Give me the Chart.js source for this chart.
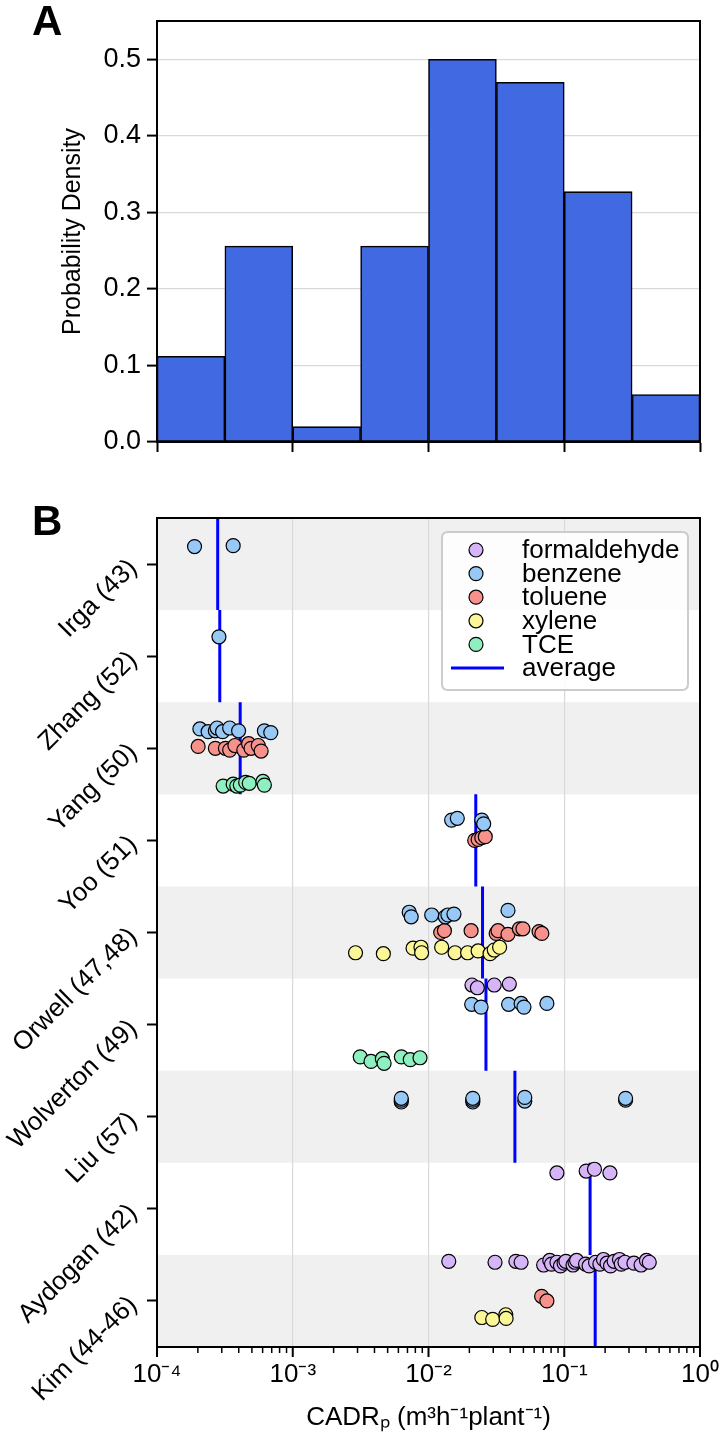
<!DOCTYPE html>
<html><head><meta charset="utf-8">
<script src="https://cdn.jsdelivr.net/npm/chart.js@4.4.1/dist/chart.umd.min.js"></script>
<style>
html,body{margin:0;padding:0;background:#fff;}
body{width:720px;height:1441px;position:relative;overflow:hidden;font-family:"Liberation Sans",Arial,sans-serif;}
.box{position:absolute;left:0;width:720px;}
.panel{position:absolute;font-weight:bold;font-size:42px;line-height:1;color:#000;font-family:"Liberation Sans",Arial,sans-serif;}
</style></head><body>
<div class="box" style="top:0;height:480px"><canvas id="ca"></canvas></div>
<div class="box" style="top:480px;height:961px"><canvas id="cb"></canvas></div>
<div class="panel" style="left:32px;top:0">A</div>
<div class="panel" style="left:32px;top:500px">B</div>
<script>
// ---------- data ----------
const binEdgesLog = [-4, -3.5, -3, -2.5, -2, -1.5, -1, -0.5, 0];
const histDensity = [0.112, 0.256, 0.020, 0.256, 0.500, 0.470, 0.327, 0.062];
const densityTicks = [0, 0.1, 0.2, 0.3, 0.4, 0.5];
const decadeExps = [-4, -3, -2, -1, 0];

const studies = ['Irga (43)', 'Zhang (52)', 'Yang (50)', 'Yoo (51)', 'Orwell (47,48)',
  'Wolverton (49)', 'Liu (57)', 'Aydogan (42)', 'Kim (44-46)'];
const averages = [2.8e-4, 2.9e-4, 4.1e-4, 0.0223, 0.025, 0.0265, 0.0433, 0.155, 0.169];

// points: [CADR value, y position (study index + jitter)]
const formaldehyde = [
  [0.0209, 4.57], [0.0229, 4.60], [0.0305, 4.57], [0.0394, 4.56],
  [0.0883, 6.61], [0.145, 6.59], [0.167, 6.57], [0.217, 6.61],
  [0.0141, 7.57], [0.0309, 7.58], [0.0440, 7.57], [0.0481, 7.58], [0.0705, 7.61], [0.0782, 7.56],
  [0.0806, 7.60], [0.0883, 7.58], [0.0938, 7.62], [0.0997, 7.59], [0.1028, 7.57], [0.116, 7.61],
  [0.120, 7.58], [0.1233, 7.56], [0.1435, 7.60], [0.1524, 7.62], [0.170, 7.58], [0.183, 7.60],
  [0.1944, 7.55], [0.2066, 7.59], [0.2194, 7.62], [0.233, 7.57], [0.255, 7.55], [0.263, 7.60],
  [0.280, 7.58], [0.326, 7.59], [0.368, 7.61], [0.403, 7.56], [0.423, 7.58]
];
const benzene = [
  [1.89e-4, -0.19], [3.64e-4, -0.20],
  [2.86e-4, 0.79],
  [2.07e-4, 1.79], [2.38e-4, 1.82], [2.69e-4, 1.81], [2.77e-4, 1.78], [3.04e-4, 1.82],
  [3.43e-4, 1.78], [3.99e-4, 1.81], [6.18e-4, 1.81], [6.89e-4, 1.83],
  [0.0148, 2.78], [0.0163, 2.76], [0.0247, 2.78], [0.0255, 2.82],
  [0.00721, 3.78], [0.00746, 3.83], [0.01056, 3.81], [0.0133, 3.83], [0.0139, 3.81], [0.0154, 3.80], [0.0385, 3.76],
  [0.0208, 4.78], [0.0244, 4.81], [0.0389, 4.78], [0.0481, 4.77], [0.0505, 4.81], [0.0745, 4.77],
  [0.0063, 5.84], [0.0063, 5.82], [0.0063, 5.80], [0.0212, 5.84], [0.0212, 5.82], [0.0212, 5.80],
  [0.0512, 5.83], [0.0512, 5.79], [0.283, 5.82], [0.283, 5.80]
];
const toluene = [
  [2.01e-4, 1.98], [2.69e-4, 2.00], [3.19e-4, 2.00], [3.43e-4, 2.02], [3.75e-4, 1.97],
  [4.36e-4, 2.02], [4.73e-4, 1.95], [4.93e-4, 2.00], [5.57e-4, 1.97], [5.85e-4, 2.03],
  [0.0219, 3.00], [0.0232, 2.99], [0.0247, 2.97], [0.0262, 2.96],
  [0.0123, 4.00], [0.0131, 3.98], [0.0206, 3.98], [0.0315, 4.01], [0.0325, 3.98],
  [0.0385, 4.02], [0.0467, 3.96], [0.0496, 3.96], [0.0652, 3.99], [0.0684, 4.01],
  [0.0681, 7.95], [0.0745, 8.00]
];
const xylene = [
  [0.0029, 4.22], [0.00465, 4.23], [0.0077, 4.17], [0.0088, 4.16], [0.0089, 4.22], [0.0125, 4.16],
  [0.0157, 4.22], [0.0194, 4.22], [0.0232, 4.20], [0.0284, 4.23], [0.0305, 4.19], [0.0334, 4.16],
  [0.0247, 8.18], [0.0297, 8.20], [0.0371, 8.15], [0.0373, 8.19]
];
const tce = [
  [3.07e-4, 2.41], [3.64e-4, 2.39], [3.87e-4, 2.41], [4.11e-4, 2.40], [4.50e-4, 2.37],
  [4.78e-4, 2.38], [6.03e-4, 2.36], [6.18e-4, 2.40],
  [0.00314, 5.35], [0.00377, 5.40], [0.00457, 5.37], [0.00471, 5.42], [0.00631, 5.35],
  [0.00734, 5.38], [0.00866, 5.36]
];
const seriesNames = ['formaldehyde', 'benzene', 'toluene', 'xylene', 'TCE'];
const seriesColors = ['#d6b4f8', '#98c8f6', '#f6918c', '#fbf797', '#8ef0c0'];
const seriesData = [formaldehyde, benzene, toluene, xylene, tce];

// ---------- helpers ----------
const FAM = '"Liberation Sans", Arial, sans-serif';
Chart.defaults.font.family = FAM;
Chart.defaults.font.size = 26;
Chart.defaults.color = '#000';

const isDecade = v => { const l = Math.log10(v); return Math.abs(l - Math.round(l)) < 1e-6; };
const sup = {'-': '\u207B', '0': '\u2070', '1': '\u00B9', '2': '\u00B2', '3': '\u00B3', '4': '\u2074'};
const decadeLabel = v => isDecade(v) ? '10' + String(Math.round(Math.log10(v))).split('').map(c => sup[c]).join('') : '';

const framePlugin = {
  id: 'frame',
  afterDraw(chart) {
    const {ctx, chartArea: a} = chart;
    ctx.save(); ctx.strokeStyle = '#000'; ctx.lineWidth = 2;
    ctx.strokeRect(a.left, a.top, a.right - a.left, a.bottom - a.top);
    ctx.restore();
  }
};
const bandPlugin = {
  id: 'bands',
  beforeDraw(chart) {
    const {ctx, chartArea: a, scales: {y}} = chart;
    ctx.save(); ctx.fillStyle = '#f0f0f0';
    studies.forEach((s, i) => {
      if (i % 2) return;
      const y1 = y.getPixelForValue(i - 0.5), y2 = y.getPixelForValue(i + 0.5);
      ctx.fillRect(a.left, Math.min(y1, y2), a.right - a.left, Math.abs(y2 - y1));
    });
    ctx.restore();
  }
};
const tickPlugin = {
  id: 'logticks',
  afterDraw(chart) {
    const {ctx, chartArea: a, scales: {x}} = chart;
    ctx.save(); ctx.strokeStyle = '#000';
    x.ticks.forEach(t => {
      const major = isDecade(t.value);
      const px = x.getPixelForValue(t.value);
      ctx.lineWidth = major ? 2 : 1.5;
      ctx.beginPath(); ctx.moveTo(px, a.bottom); ctx.lineTo(px, a.bottom + (major ? 10 : 6)); ctx.stroke();
    });
    ctx.restore();
  }
};
function rr(ctx, x, y, w, h, r) {
  ctx.beginPath();
  ctx.moveTo(x + r, y); ctx.lineTo(x + w - r, y); ctx.quadraticCurveTo(x + w, y, x + w, y + r);
  ctx.lineTo(x + w, y + h - r); ctx.quadraticCurveTo(x + w, y + h, x + w - r, y + h);
  ctx.lineTo(x + r, y + h); ctx.quadraticCurveTo(x, y + h, x, y + h - r);
  ctx.lineTo(x, y + r); ctx.quadraticCurveTo(x, y, x + r, y); ctx.closePath();
}
const legendPlugin = {
  id: 'boxLegend',
  afterDraw(chart) {
    const ctx = chart.ctx;
    const x0 = 442, y0 = 52, w = 246, h = 158;
    ctx.save();
    rr(ctx, x0, y0, w, h, 6);
    ctx.fillStyle = 'rgba(255,255,255,0.85)'; ctx.fill();
    ctx.strokeStyle = '#cccccc'; ctx.lineWidth = 2; ctx.stroke();
    ctx.font = '26px ' + FAM;
    ctx.textBaseline = 'middle'; ctx.textAlign = 'left';
    chart.data.datasets.forEach((ds, i) => {
      const cy = 70 + i * 23.6;
      if (ds.showLine) {
        ctx.strokeStyle = ds.borderColor; ctx.lineWidth = 3;
        ctx.beginPath(); ctx.moveTo(451, cy); ctx.lineTo(504, cy); ctx.stroke();
      } else {
        ctx.beginPath(); ctx.arc(476, cy, 7, 0, Math.PI * 2);
        ctx.fillStyle = ds.backgroundColor; ctx.fill();
        ctx.strokeStyle = '#000'; ctx.lineWidth = 1.2; ctx.stroke();
      }
      ctx.fillStyle = '#000';
      ctx.fillText(ds.label, 522, cy + 1);
    });
    ctx.restore();
  }
};

// ---------- panel A ----------
new Chart(document.getElementById('ca'), {
  type: 'bar',
  data: {
    datasets: [{
      data: histDensity.map((d, i) => ({x: (binEdgesLog[i] + binEdgesLog[i + 1]) / 2, y: d})),
      backgroundColor: '#4169e1', borderColor: '#000', borderWidth: 1.6, borderSkipped: false,
      barPercentage: 1, categoryPercentage: 1
    }]
  },
  options: {
    responsive: true, maintainAspectRatio: false, animation: false,
    layout: {padding: {top: 21, right: 20, left: 0, bottom: 0}},
    plugins: {legend: {display: false}, tooltip: {enabled: false}},
    scales: {
      x: {
        type: 'linear', min: -4, max: 0, offset: false,
        afterBuildTicks: s => { s.ticks = decadeExps.map(v => ({value: v})); },
        ticks: {display: false},
        grid: {offset: false, drawOnChartArea: false, drawTicks: true, tickLength: 10, tickColor: '#000', tickWidth: 2},
        border: {color: '#000', width: 2},
        afterFit: s => { s.height = 38; s.paddingLeft = 0; s.paddingRight = 0; }
      },
      y: {
        min: 0, max: 0.55,
        afterBuildTicks: s => { s.ticks = densityTicks.map(v => ({value: v})); },
        ticks: {callback: v => Number(v).toFixed(1), padding: 6, color: '#000', font: {size: 27}},
        grid: {color: '#d9d9d9', lineWidth: 1.2, tickColor: '#000', tickLength: 10, tickWidth: 2},
        border: {color: '#000', width: 2},
        title: {display: true, text: 'Probability Density', color: '#000', font: {size: 25}, padding: {top: 58, bottom: 0}},
        afterFit: s => { s.width = 157; s.paddingTop = 0; s.paddingBottom = 0; }
      }
    }
  },
  plugins: [framePlugin]
});

// ---------- panel B ----------
const avgData = [];
averages.forEach((a, i) => { avgData.push({x: a, y: i - 0.5}, {x: a, y: i + 0.5}, {x: a, y: null}); });

new Chart(document.getElementById('cb'), {
  type: 'scatter',
  data: {
    datasets: seriesNames.map((n, k) => ({
      label: n, data: seriesData[k].map(p => ({x: p[0], y: p[1]})),
      backgroundColor: seriesColors[k], borderColor: '#000', borderWidth: 1.2,
      pointRadius: 7, pointHoverRadius: 7
    })).concat([{
      label: 'average', data: avgData, showLine: true, spanGaps: false,
      borderColor: '#0000ff', backgroundColor: '#0000ff', borderWidth: 3, pointRadius: 0
    }])
  },
  options: {
    responsive: true, maintainAspectRatio: false, animation: false,
    layout: {padding: {top: 38, right: 20, left: 0, bottom: 0}},
    plugins: {legend: {display: false}, tooltip: {enabled: false}},
    scales: {
      x: {
        type: 'logarithmic', min: 1e-4, max: 1,
        afterBuildTicks: s => {
          const t = [];
          for (let e = -4; e < 0; e++) for (let m = 1; m <= 9; m++) t.push({value: m * Math.pow(10, e)});
          t.push({value: 1});
          s.ticks = t;
        },
        ticks: {autoSkip: false, minRotation: 0, maxRotation: 0, padding: 12, color: '#000', font: {size: 26},
          callback: v => decadeLabel(v)},
        grid: {drawTicks: false, lineWidth: 1.2,
          color: c => (c.tick && isDecade(c.tick.value)) ? '#d9d9d9' : 'rgba(0,0,0,0)'},
        border: {color: '#000', width: 2},
        title: {display: true, text: 'CADR\u209A (m\u00B3h\u207B\u00B9plant\u207B\u00B9)', color: '#000',
          font: {size: 26}, padding: {top: 0, bottom: 8}},
        afterFit: s => { s.height = 94; s.paddingLeft = 0; s.paddingRight = 0; }
      },
      y: {
        type: 'linear', min: -0.5, max: 8.5, reverse: true,
        afterBuildTicks: s => { s.ticks = studies.map((n, i) => ({value: i})); },
        ticks: {autoSkip: false, minRotation: 45, maxRotation: 45, padding: 14, color: '#000', font: {size: 26},
          callback: v => studies[v]},
        grid: {drawOnChartArea: false, tickLength: 10, tickColor: '#000', tickWidth: 2},
        border: {color: '#000', width: 2},
        afterFit: s => { s.width = 157; s.paddingTop = 0; s.paddingBottom = 0; }
      }
    }
  },
  plugins: [bandPlugin, tickPlugin, framePlugin, legendPlugin]
});
</script></body></html>
